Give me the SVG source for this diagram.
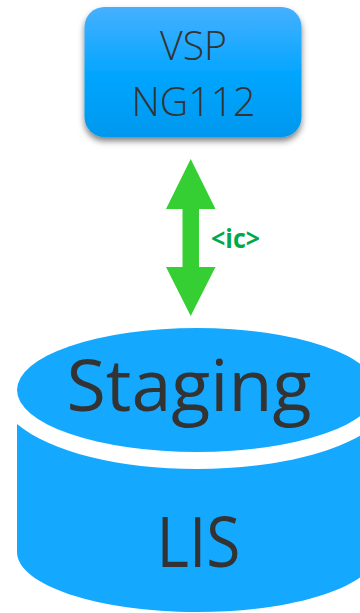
<svg xmlns="http://www.w3.org/2000/svg" width="360" height="613" viewBox="0 0 360 613">
<style>
.t{font-family:"Open Sans","Noto Sans",sans-serif;fill:#333333;text-anchor:middle}
.db{fill:#14a9ff}
</style>
<defs>
<linearGradient id="g" x1="0" y1="0" x2="0" y2="1">
<stop offset="0" stop-color="#46b0ff"/>
<stop offset="0.5" stop-color="#05a6ff"/>
<stop offset="1" stop-color="#0598ee"/>
</linearGradient>
<filter id="s" x="-10%" y="-10%" width="120%" height="125%">
<feDropShadow dx="0" dy="4" stdDeviation="3" flood-color="#000" flood-opacity="0.5"/>
</filter>
</defs>
<rect width="360" height="613" fill="#fff"/>
<g id="connectors">
<path id="arrow" fill="#36cf33" d="M190.7 159L215.5 209H199V267H215.5L190.7 316L166 267H182.5V209H166Z"/>
<text x="235.5" y="248" font-family="'Open Sans','Noto Sans',sans-serif" font-size="27" font-weight="700" fill="#00a850" text-anchor="middle" textLength="49" lengthAdjust="spacingAndGlyphs">&lt;ic&gt;</text>
</g>
<g id="vsp">
<rect x="84.5" y="7" width="217" height="130" rx="20" fill="url(#g)" filter="url(#s)"/>
<text class="t" x="193.5" y="60" font-size="41" font-weight="300" textLength="67" lengthAdjust="spacingAndGlyphs">VSP</text>
<text class="t" x="193.5" y="116" font-size="41" font-weight="300" textLength="124" lengthAdjust="spacingAndGlyphs">NG112</text>
</g>
<g id="lis">
<ellipse class="db" cx="197" cy="390" rx="180" ry="62"/>
<path class="db" d="M17 424C50 452 120 469 197 469S344 452 377 424V552C377 585 296 612 197 612S17 585 17 552Z"/>
<text class="t" x="189" y="411" font-size="72" font-weight="500" textLength="245" lengthAdjust="spacingAndGlyphs">Staging</text>
<text class="t" x="198.5" y="567" font-size="70" font-weight="500" textLength="84" lengthAdjust="spacingAndGlyphs">LIS</text>
</g>
</svg>
